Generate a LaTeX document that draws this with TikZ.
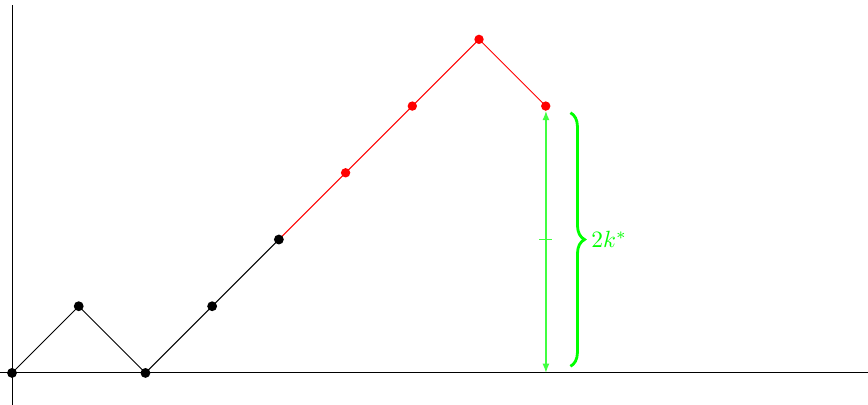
\documentclass[tikz,border=0pt]{standalone}
\usetikzlibrary{decorations.pathreplacing,arrows.meta}
\begin{document}
\begin{tikzpicture}
\tikzset{
  blackdot/.style={circle,fill=black,inner sep=0pt,minimum size=4.2pt},
  reddot/.style={circle,fill=red,inner sep=0pt,minimum size=4pt},
  greenline/.style={draw=green!75!white,line width=0.6pt},
}
\useasboundingbox (-0.18,-0.48) rectangle (12.83,5.59);
% axes
\coordinate (xl) at (-0.18,0);
\coordinate (xr) at (12.83,0);
\coordinate (yb) at (0,-0.48);
\coordinate (yt) at (0,5.52);
\draw (xl) -- (xr);
\draw (yb) -- (yt);
% path
\coordinate (p0) at (0,0);
\coordinate (p1) at (1,1);
\coordinate (p2) at (2,0);
\coordinate (p3) at (3,1);
\coordinate (p4) at (4,2);
\coordinate (p5) at (5,3);
\coordinate (p6) at (6,4);
\coordinate (p7) at (7,5);
\coordinate (p8) at (8,4);
\draw (p0) -- (p1) -- (p2) -- (p3) -- (p4);
\draw[red] (p4) -- (p5) -- (p6) -- (p7) -- (p8);
\foreach \i in {0,...,4} \node[blackdot] (d\i) at (p\i) {};
\foreach \i in {5,...,8} \node[reddot] (d\i) at (p\i) {};
% green arrow
\coordinate (a0) at (8.003,0);
\coordinate (a1) at (8.003,4);
\coordinate (tl) at (7.9,2.003);
\coordinate (tr) at (8.1,2.003);
\draw[greenline,fill=green,shorten >=2pt,{Latex[length=4pt,width=3pt]}-{Latex[length=4pt,width=3pt]}] (a0) -- (a1);
\draw[greenline] (tl) -- (tr);
% brace
\coordinate (bt) at (8.37,3.9);
\coordinate (bb) at (8.37,0.1);
\draw[green,very thick,decorate,decoration={brace,amplitude=6pt}] (bt) -- (bb)
  node[midway,right=5pt,text=green] (lab) {$2k^*$};
\end{tikzpicture}
\end{document}
